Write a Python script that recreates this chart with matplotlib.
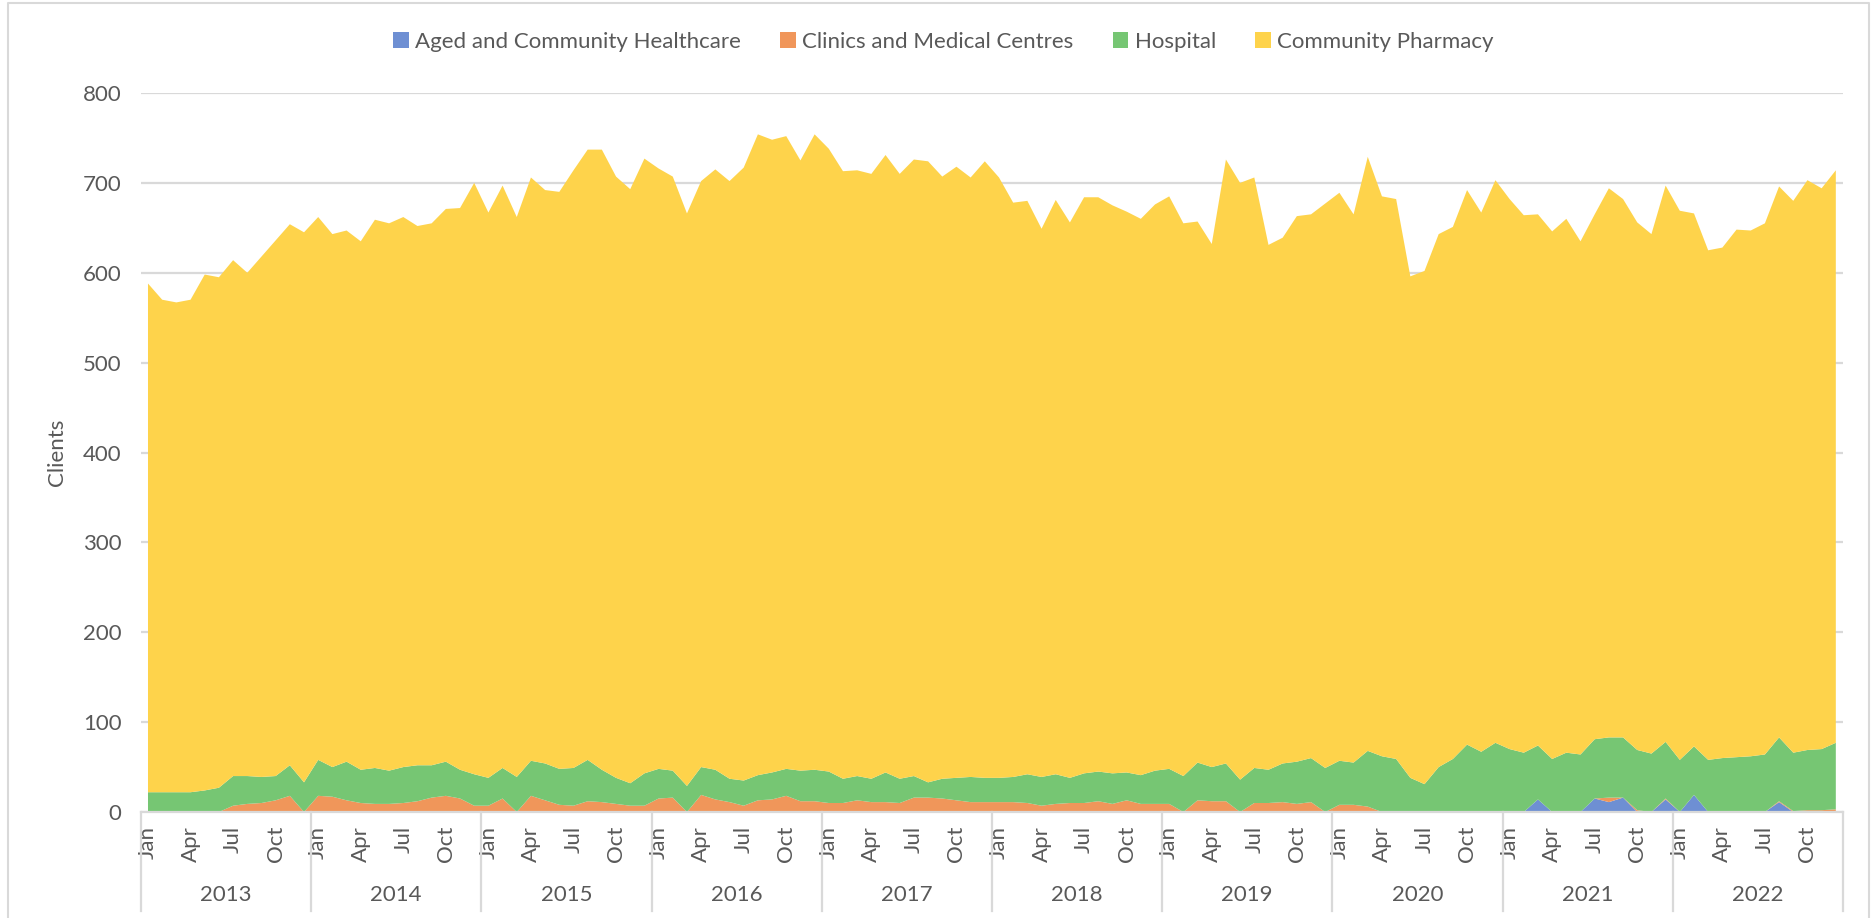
import numpy as np
import matplotlib
matplotlib.use("Agg")
import matplotlib.pyplot as plt
from matplotlib.patches import Patch
from matplotlib.lines import Line2D

plt.rcParams['font.family'] = ['Lato', 'DejaVu Sans']

# monthly client counts, Jan 2013 .. Dec 2022
years = list(range(2013, 2023))
month_names = ["Jan", "Apr", "Jul", "Oct"]

aged = [0] * 96 + [
    0, 0, 14, 0, 0, 0, 15, 11, 16, 0, 0, 14,
    0, 19, 0, 0, 0, 0, 0, 11, 0, 0, 0, 0,
]

clinics = [
    0, 0, 0, 0, 0, 0, 7, 9, 10, 13, 18, 0,
    18, 17, 13, 10, 9, 9, 10, 12, 16, 18, 15, 7,
    7, 15, 0, 18, 13, 8, 7, 12, 11, 9, 7, 7,
    15, 16, 0, 19, 14, 11, 7, 13, 14, 18, 12, 12,
    10, 10, 13, 11, 11, 10, 16, 16, 15, 13, 11, 11,
    11, 11, 10, 7, 9, 10, 10, 12, 9, 13, 9, 9,
    9, 0, 13, 12, 12, 0, 10, 10, 11, 9, 11, 0,
    8, 8, 6, 0, 0, 0, 0, 0, 0, 0, 0, 0,
    0, 0, 0, 0, 0, 0, 0, 5, 0, 2, 0, 1,
    0, 0, 0, 0, 0, 0, 0, 1, 1, 2, 2, 3,
]

hospital = [
    22, 22, 22, 22, 24, 27, 33, 31, 29, 27, 34, 33,
    40, 33, 43, 37, 40, 37, 40, 40, 36, 38, 32, 35,
    31, 34, 39, 39, 41, 40, 42, 46, 36, 29, 25, 36,
    33, 30, 29, 31, 33, 26, 28, 28, 30, 30, 34, 35,
    35, 27, 27, 26, 33, 27, 24, 17, 22, 25, 28, 27,
    27, 28, 32, 32, 33, 28, 33, 33, 34, 31, 32, 37,
    39, 40, 42, 38, 42, 36, 39, 37, 43, 47, 49, 49,
    49, 47, 62, 62, 59, 38, 31, 50, 59, 75, 67, 77,
    70, 66, 60, 59, 66, 64, 66, 67, 67, 67, 65, 63,
    58, 54, 58, 60, 61, 62, 64, 71, 65, 67, 68, 74,
]

pharmacy = [
    566, 548, 545, 548, 574, 568, 574, 560, 579, 596, 602, 612,
    604, 593, 591, 588, 610, 609, 612, 600, 603, 615, 625, 658,
    629, 648, 623, 649, 638, 642, 665, 679, 690, 669, 661, 684,
    668, 661, 637, 652, 668, 665, 682, 713, 704, 704, 679, 707,
    693, 676, 674, 673, 687, 673, 686, 691, 670, 680, 667, 686,
    668, 639, 638, 610, 639, 618, 641, 639, 632, 624, 619, 630,
    637, 615, 602, 582, 672, 664, 657, 584, 585, 607, 605, 628,
    632, 610, 661, 623, 623, 558, 571, 593, 592, 617, 600, 626,
    612, 598, 591, 587, 594, 571, 584, 611, 599, 587, 578, 619,
    611, 593, 567, 568, 587, 585, 591, 613, 614, 634, 624, 637,
]

labels = ["Aged and Community Healthcare", "Clinics and Medical Centres",
          "Hospital", "Community Pharmacy"]
colors = ["#6E8FD3", "#F0965A", "#76C673", "#FED34B"]
grey = "#595959"
light = "#D9D9D9"
fs = 16

x = np.arange(len(pharmacy))

fig = plt.figure(figsize=(18.72, 9.18), dpi=100)
ax = fig.add_axes([0.07527, 0.11547, 0.90919, 0.78322])

ax.stackplot(x, aged, clinics, hospital, pharmacy, colors=colors, linewidth=0)

ax.set_xlim(-0.5, len(x) - 0.5)
ax.set_ylim(0, 800)
ax.set_yticks(range(0, 801, 100))
ax.set_axisbelow(True)
ax.yaxis.grid(True, color=light, linewidth=1.6)
ax.tick_params(axis="y", length=0, pad=14, labelsize=fs, labelcolor=grey)
ax.set_ylabel("Clients", fontsize=fs, color=grey)
ax.yaxis.set_label_coords(-0.0437, 0.5)

for s in ["top", "right", "left"]:
    ax.spines[s].set_visible(False)
ax.spines["bottom"].set_color(light)
ax.spines["bottom"].set_linewidth(1.6)

# month ticks every quarter
mt = np.arange(0, len(x), 3)
ax.set_xticks(mt)
ax.set_xticklabels([month_names[(i // 3) % 4] for i in mt], rotation=90, va="top")
ax.tick_params(axis="x", length=0, pad=10, labelsize=fs, labelcolor=grey)

# year groups below the months
tr = ax.get_xaxis_transform()
for k in range(len(years) + 1):
    ax.add_line(Line2D([12 * k - 0.5] * 2, [0, -0.137], transform=tr,
                       color=light, linewidth=1.6, clip_on=False))
for k, yr in enumerate(years):
    ax.text(12 * k + 5.5, -0.1154, str(yr), transform=tr, ha="center",
            va="center", fontsize=fs, color=grey)

handles = [Patch(facecolor=c, edgecolor="none") for c in colors]
fig.legend(handles, labels, loc="center", bbox_to_anchor=(0.504, 0.9546),
           ncol=4, frameon=False, fontsize=fs, labelcolor=grey,
           handlelength=0.7, handleheight=0.7, handletextpad=0.3,
           columnspacing=1.75)

# chart area border
fig.add_artist(Line2D([0.0045, 0.0045, 0.9985, 0.9985], [0, 0.997, 0.997, 0],
                      transform=fig.transFigure, color=light, linewidth=1.5))

fig.savefig("out.png", dpi=100)
